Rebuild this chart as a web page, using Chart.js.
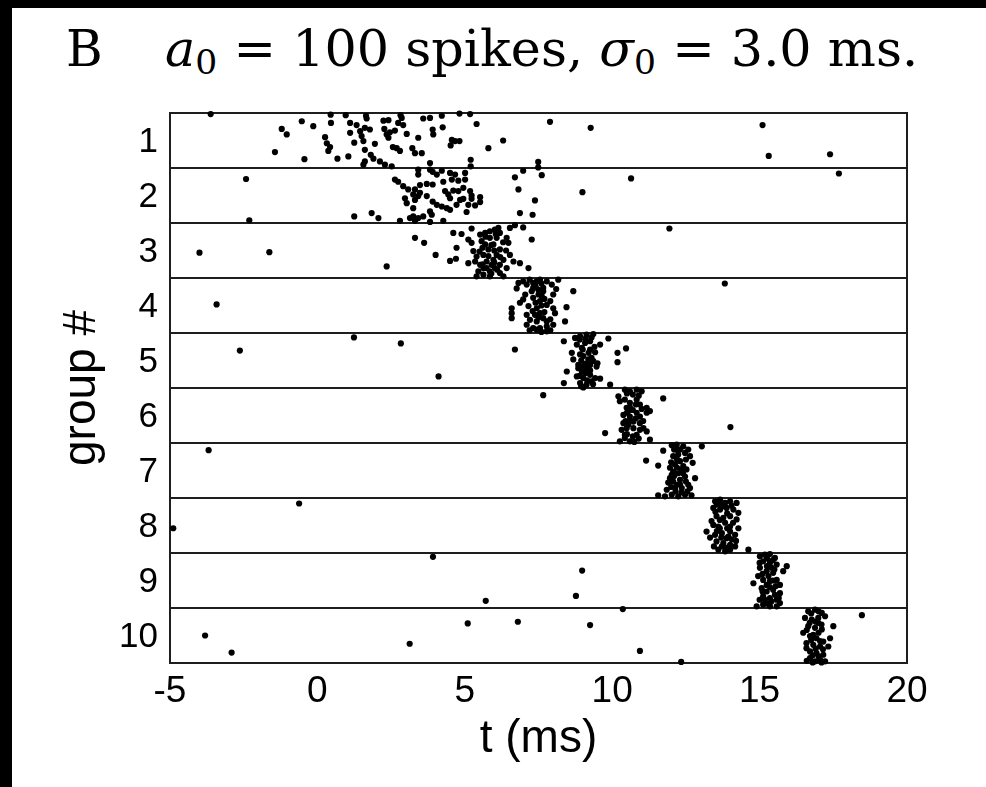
<!DOCTYPE html>
<html>
<head>
<meta charset="utf-8">
<script src="https://cdn.jsdelivr.net/npm/chart.js"></script>
<style>
  html, body { margin: 0; padding: 0; background: #000; }
  #panel { position: absolute; left: 12px; top: 8px; width: 974px; height: 779px; background: #fff; }
  #chart { position: absolute; left: 0; top: 0; }
  .ttl { position: absolute; font-family: "DejaVu Serif", "Liberation Serif", serif; color: #000; white-space: nowrap; line-height: 1; transform-origin: 0 0; }
  .ttl sub { font-size: 0.68em; vertical-align: -0.24em; line-height: 0; }
</style>
</head>
<body>
<div id="panel"></div>
<div class="ttl" id="panelLetter" style="left:66px; top:24px; font-size:50px;">B</div>
<div class="ttl" id="panelTitle" style="left:165px; top:24px; font-size:50px;"><i>a</i><sub>0</sub> = 100 spikes, <i>σ</i><sub>0</sub> = 3.0 ms.</div>
<canvas id="chart" width="986" height="787"></canvas>
<script>
// spike times per group: [t (ms), position inside the group's row, 0 = top .. 1 = bottom]
const spikesG1 = [[0.45,0.03],[0.96,0.04],[1.65,0.05],[1.67,0.10],[2.82,0.04],[2.86,0.09],[3.59,0.10],[3.82,0.09],[4.22,0.05],[4.82,0.01],[5.18,0.02],[-0.53,0.15],[-0.14,0.24],[-1.21,0.29],[-1.04,0.39],[0.46,0.18],[1.11,0.18],[1.33,0.22],[1.61,0.27],[1.78,0.30],[2.24,0.14],[2.41,0.13],[2.74,0.18],[2.91,0.22],[2.27,0.29],[2.46,0.35],[2.63,0.32],[3.03,0.38],[3.42,0.45],[3.91,0.30],[3.93,0.39],[4.25,0.26],[5.40,0.20],[7.89,0.16],[0.26,0.44],[0.32,0.55],[0.43,0.62],[0.37,0.69],[1.11,0.36],[1.45,0.33],[1.50,0.42],[1.56,0.51],[1.95,0.56],[2.35,0.39],[2.41,0.45],[2.56,0.62],[2.69,0.64],[2.80,0.69],[3.22,0.64],[3.31,0.73],[3.54,0.73],[4.56,0.49],[4.67,0.51],[4.82,0.51],[4.52,0.59],[6.30,0.50],[5.80,0.64],[-1.44,0.71],[-0.44,0.84],[0.68,0.83],[1.05,0.79],[1.61,0.67],[1.81,0.76],[1.90,0.83],[1.61,0.88],[1.56,0.94],[2.12,0.88],[2.29,0.94],[2.52,0.97],[3.82,0.91],[5.20,0.85],[5.20,0.97],[7.49,0.89],[7.49,0.99],[1.25,0.54],[-3.62,0.02],[9.27,0.27],[15.10,0.22],[15.31,0.78],[17.39,0.75]];
const spikesG2 = [[3.42,0.03],[3.42,0.12],[3.82,0.03],[3.91,0.07],[4.22,0.05],[4.05,0.12],[4.50,0.09],[4.67,0.12],[5.01,0.09],[4.56,0.21],[4.78,0.23],[5.01,0.21],[4.27,0.25],[3.91,0.30],[3.71,0.29],[3.48,0.31],[3.31,0.39],[2.63,0.21],[2.74,0.25],[2.91,0.33],[3.08,0.39],[3.25,0.48],[3.42,0.51],[3.48,0.45],[3.71,0.51],[3.91,0.61],[4.05,0.67],[4.22,0.70],[4.39,0.73],[4.50,0.76],[3.31,0.58],[3.25,0.73],[2.97,0.55],[3.03,0.64],[4.33,0.42],[4.44,0.48],[4.50,0.55],[4.61,0.41],[4.78,0.42],[4.95,0.36],[5.18,0.42],[5.23,0.50],[5.23,0.56],[5.52,0.53],[5.52,0.62],[5.35,0.68],[5.12,0.67],[4.95,0.56],[4.84,0.58],[4.72,0.67],[5.06,0.80],[3.82,0.79],[3.88,0.85],[3.59,0.88],[3.42,0.91],[3.25,0.88],[3.14,0.91],[3.31,0.96],[1.84,0.82],[2.07,0.91],[1.25,0.88],[2.80,0.96],[3.82,0.98],[6.82,0.39],[6.70,0.17],[6.98,0.05],[7.61,0.13],[7.38,0.59],[6.87,0.82],[7.30,0.85],[4.27,0.96],[-2.42,0.20],[-2.31,0.95],[10.64,0.19],[8.99,0.44],[17.69,0.10]];
const spikesG3 = [[3.31,0.27],[3.62,0.36],[4.01,0.58],[4.61,0.18],[4.89,0.20],[5.23,0.10],[5.12,0.30],[5.23,0.36],[4.72,0.45],[4.50,0.69],[4.70,0.65],[5.12,0.73],[5.52,0.21],[5.69,0.18],[5.85,0.15],[6.02,0.12],[6.14,0.09],[6.19,0.18],[6.53,0.09],[6.70,0.04],[6.98,0.08],[7.27,0.30],[6.42,0.27],[6.48,0.36],[5.97,0.39],[5.80,0.48],[5.63,0.58],[5.40,0.61],[5.35,0.70],[5.52,0.76],[5.46,0.88],[5.40,0.97],[5.74,0.82],[5.85,0.88],[6.02,0.82],[6.19,0.76],[6.31,0.67],[6.53,0.58],[6.65,0.70],[6.87,0.73],[7.16,0.82],[6.42,0.82],[6.19,0.91],[6.31,0.97],[5.85,0.97],[5.63,0.94],[6.08,0.58],[6.19,0.48],[5.97,0.67],[5.69,0.39],[5.57,0.33],[5.29,0.51],[5.85,0.27],[5.74,0.70],[6.08,0.27],[5.91,0.76],[5.63,0.82],[5.60,0.45],[5.80,0.60],[6.00,0.50],[6.20,0.62],[5.90,0.40],[6.30,0.35],[5.70,0.25],[6.00,0.72],[5.60,0.75],[6.10,0.85],[5.90,0.92],[6.40,0.50],[6.05,0.20],[5.50,0.52],[-4.00,0.54],[-1.63,0.53],[2.35,0.79],[11.94,0.10]];
const spikesG4 = [[6.82,0.09],[6.76,0.19],[6.98,0.06],[7.10,0.12],[7.32,0.09],[7.44,0.06],[7.55,0.03],[7.78,0.06],[7.95,0.12],[8.17,0.03],[8.00,0.30],[8.68,0.24],[7.49,0.21],[7.27,0.24],[7.66,0.24],[7.32,0.36],[7.55,0.42],[7.78,0.49],[8.00,0.55],[6.98,0.39],[6.87,0.45],[6.59,0.55],[6.59,0.64],[6.59,0.73],[7.10,0.67],[7.44,0.55],[7.55,0.64],[7.66,0.73],[7.78,0.79],[8.06,0.64],[8.45,0.53],[8.40,0.79],[7.10,0.85],[7.32,0.91],[7.55,0.91],[7.78,0.88],[8.00,0.85],[7.44,0.79],[7.16,0.51],[7.61,0.33],[7.38,0.67],[7.21,0.76],[7.32,0.18],[7.66,0.18],[7.44,0.94],[7.78,0.97],[7.20,0.03],[7.40,0.15],[7.60,0.10],[7.50,0.30],[7.70,0.38],[7.40,0.45],[7.60,0.50],[7.90,0.42],[7.30,0.60],[7.50,0.72],[7.70,0.62],[7.90,0.75],[7.20,0.95],[7.60,0.98],[7.90,0.95],[7.05,0.30],[8.10,0.20],[-3.42,0.48],[13.82,0.10]];
const spikesG5 = [[8.36,0.15],[8.74,0.09],[8.91,0.06],[9.13,0.03],[9.36,0.02],[9.59,0.21],[9.87,0.10],[8.80,0.21],[8.97,0.27],[9.25,0.30],[9.42,0.35],[8.68,0.48],[8.85,0.58],[9.02,0.42],[9.19,0.48],[9.36,0.51],[9.47,0.61],[9.13,0.64],[8.97,0.70],[8.46,0.70],[8.80,0.79],[9.02,0.82],[9.25,0.76],[9.42,0.82],[9.59,0.83],[8.91,0.91],[9.13,0.94],[9.02,0.99],[8.36,0.91],[9.93,0.94],[10.18,0.36],[10.18,0.53],[10.47,0.28],[8.63,0.36],[9.25,0.15],[9.08,0.18],[8.91,0.39],[9.25,0.58],[9.08,0.73],[8.85,0.64],[9.30,0.88],[8.90,0.12],[9.10,0.10],[9.30,0.08],[9.00,0.30],[9.20,0.36],[9.40,0.25],[8.95,0.50],[9.10,0.56],[9.30,0.45],[9.00,0.60],[9.25,0.68],[8.90,0.78],[9.15,0.86],[9.35,0.93],[8.95,0.97],[9.50,0.55],[-2.63,0.32],[1.24,0.08],[2.83,0.19],[4.11,0.79],[6.70,0.30]];
const spikesG6 = [[7.66,0.13],[10.21,0.15],[10.43,0.03],[10.60,0.06],[10.83,0.03],[11.00,0.06],[10.43,0.21],[10.60,0.27],[10.83,0.21],[10.94,0.30],[11.17,0.36],[10.49,0.36],[10.38,0.49],[10.60,0.52],[10.83,0.45],[10.94,0.52],[11.17,0.45],[11.28,0.42],[10.38,0.64],[10.55,0.67],[10.32,0.76],[10.49,0.73],[10.72,0.73],[10.94,0.76],[11.06,0.73],[11.17,0.79],[11.28,0.94],[10.43,0.91],[10.60,0.97],[10.83,0.85],[9.76,0.82],[11.73,0.19],[10.26,0.97],[10.72,0.61],[10.94,0.64],[10.26,0.24],[10.55,0.42],[10.43,0.85],[10.50,0.10],[10.70,0.12],[10.90,0.14],[10.60,0.35],[10.80,0.30],[10.50,0.45],[10.70,0.40],[11.00,0.38],[10.60,0.58],[10.80,0.55],[10.50,0.84],[10.70,0.88],[10.90,0.92],[10.45,0.60],[11.05,0.60],[10.75,0.98],[14.01,0.71]];
const spikesG7 = [[11.73,0.14],[11.15,0.32],[11.56,0.41],[12.02,0.04],[12.19,0.03],[12.41,0.06],[12.58,0.12],[13.04,0.06],[12.07,0.24],[12.24,0.21],[12.47,0.18],[12.64,0.24],[12.30,0.33],[12.13,0.39],[11.96,0.45],[12.41,0.42],[12.73,0.36],[12.52,0.48],[12.02,0.58],[12.24,0.55],[12.47,0.61],[12.07,0.70],[12.30,0.67],[12.81,0.64],[12.58,0.76],[11.85,0.85],[12.13,0.82],[12.36,0.82],[12.64,0.82],[11.56,0.95],[11.79,0.97],[12.02,0.94],[12.24,0.97],[12.47,0.94],[12.69,0.95],[11.96,0.64],[12.19,0.76],[12.19,0.12],[12.07,0.52],[12.36,0.48],[12.10,0.12],[12.30,0.12],[12.50,0.30],[12.20,0.30],[12.00,0.35],[12.20,0.45],[12.40,0.55],[12.10,0.60],[12.30,0.75],[12.50,0.70],[12.00,0.80],[12.35,0.90],[12.15,0.88],[11.90,0.72],[12.55,0.88],[-3.69,0.13]];
const spikesG8 = [[13.49,0.06],[13.66,0.03],[13.83,0.09],[14.00,0.06],[14.22,0.09],[13.43,0.18],[13.66,0.21],[13.88,0.18],[14.11,0.21],[14.28,0.27],[13.54,0.33],[13.77,0.36],[14.00,0.33],[14.22,0.39],[13.43,0.49],[13.60,0.52],[13.83,0.45],[14.00,0.52],[14.28,0.55],[13.20,0.61],[13.32,0.72],[13.49,0.67],[13.72,0.64],[13.94,0.70],[14.17,0.67],[13.54,0.79],[13.77,0.82],[14.00,0.85],[14.17,0.88],[13.60,0.94],[13.83,0.97],[14.00,0.94],[14.62,0.94],[13.37,0.42],[14.00,0.61],[13.66,0.12],[13.88,0.73],[13.72,0.88],[13.55,0.12],[13.80,0.15],[14.05,0.14],[13.50,0.25],[13.90,0.28],[13.65,0.40],[13.90,0.55],[13.55,0.60],[14.10,0.45],[13.70,0.72],[14.05,0.75],[13.45,0.88],[13.90,0.90],[14.20,0.78],[13.65,0.55],[-0.62,0.10],[-4.89,0.55]];
const spikesG9 = [[15.01,0.06],[15.18,0.03],[15.35,0.02],[15.52,0.09],[15.12,0.15],[15.35,0.18],[15.58,0.21],[15.92,0.24],[15.80,0.33],[15.01,0.27],[15.24,0.33],[15.46,0.36],[14.95,0.42],[14.79,0.55],[15.12,0.49],[15.35,0.51],[15.58,0.49],[15.69,0.58],[15.07,0.64],[15.24,0.70],[15.46,0.67],[15.69,0.73],[15.12,0.79],[15.35,0.82],[15.58,0.85],[15.69,0.91],[14.90,0.97],[15.12,0.94],[15.35,0.97],[15.58,0.97],[15.24,0.58],[15.41,0.27],[15.52,0.76],[15.18,0.85],[15.25,0.10],[15.45,0.13],[15.00,0.18],[15.25,0.24],[15.50,0.30],[15.10,0.38],[15.30,0.42],[15.55,0.60],[15.35,0.62],[15.10,0.70],[15.40,0.88],[15.25,0.92],[15.65,0.82],[15.00,0.85],[15.45,0.50],[3.92,0.07],[8.98,0.32],[5.71,0.87],[8.77,0.78]];
const spikesG10 = [[16.65,0.06],[16.88,0.03],[17.11,0.09],[16.54,0.18],[16.77,0.21],[16.99,0.18],[17.22,0.15],[17.50,0.33],[16.65,0.33],[16.88,0.36],[17.11,0.39],[16.48,0.45],[16.71,0.51],[16.93,0.55],[17.39,0.55],[17.33,0.70],[16.59,0.64],[16.82,0.67],[17.05,0.70],[16.71,0.79],[16.93,0.82],[17.16,0.85],[16.71,0.91],[16.88,0.97],[17.05,0.94],[17.22,0.97],[16.99,0.27],[16.82,0.49],[17.16,0.61],[16.59,0.73],[16.75,0.10],[17.00,0.06],[16.70,0.27],[16.90,0.25],[17.10,0.30],[16.60,0.40],[17.00,0.45],[16.75,0.58],[17.05,0.60],[16.90,0.74],[17.15,0.75],[16.80,0.86],[17.00,0.88],[16.60,0.96],[16.80,0.99],[17.10,0.99],[-3.81,0.50],[-2.91,0.81],[3.13,0.65],[5.10,0.28],[6.80,0.25],[9.25,0.31],[10.36,0.02],[10.94,0.78],[12.34,0.98],[18.47,0.13]];

const groups = [spikesG1, spikesG2, spikesG3, spikesG4, spikesG5, spikesG6, spikesG7, spikesG8, spikesG9, spikesG10];
const groupLabels = ['1', '2', '3', '4', '5', '6', '7', '8', '9', '10'];
const xTicks = [-5, 0, 5, 10, 15, 20];

const points = [];
groups.forEach((g, i) => {
  for (const [t, p] of g) points.push({ x: t, y: i + p });
});

// stretch the serif heading so it spans the same width as in the figure
const heading = document.getElementById('panelTitle');
const wantW = 918 - 165;
heading.style.transform = `scaleX(${(wantW / heading.getBoundingClientRect().width).toFixed(3)})`;

const lineColor = '#1e1e1e';

// box round the plot area
const frame = {
  id: 'frame',
  beforeDatasetsDraw(chart) {
    const { ctx, chartArea: a } = chart;
    ctx.save();
    ctx.strokeStyle = lineColor;
    ctx.lineWidth = 2;
    ctx.strokeRect(a.left, a.top, a.right - a.left, a.bottom - a.top);
    ctx.restore();
  }
};

const sans = '"Liberation Sans", Arial, sans-serif';
const yTickFont = { family: sans, size: 35, lineHeight: 1.2 };
const xTickFont = { family: sans, size: 37, lineHeight: 1.2 };
const titleFont = { family: sans, size: 46, lineHeight: 1.2 };

new Chart(document.getElementById('chart'), {
  type: 'scatter',
  data: {
    datasets: [{
      data: points,
      backgroundColor: '#000',
      borderWidth: 0,
      pointRadius: 3.1,
      pointHoverRadius: 3.1,
      clip: false
    }]
  },
  options: {
    responsive: false,
    animation: false,
    devicePixelRatio: 1,
    layout: { padding: { top: 113, right: 79, bottom: 0, left: 0 } },
    plugins: { legend: { display: false }, tooltip: { enabled: false } },
    scales: {
      x: {
        type: 'linear',
        min: -5,
        max: 20,
        afterFit: (s) => { s.height = 124; },
        afterBuildTicks: (s) => { s.ticks = xTicks.map((v) => ({ value: v })); },
        grid: { display: false, drawTicks: false },
        border: { display: true, color: lineColor, width: 2 },
        ticks: { color: '#000', font: xTickFont, padding: 7, maxRotation: 0, autoSkip: false },
        title: { display: true, text: 't (ms)', color: '#000', font: titleFont, padding: { top: 0, bottom: 20 } }
      },
      y: {
        type: 'linear',
        min: 0,
        max: groups.length,
        reverse: true,
        afterFit: (s) => { s.width = 170; },
        grid: { display: true, color: lineColor, lineWidth: 2, drawTicks: false },
        border: { display: true, color: lineColor, width: 2 },
        ticks: {
          stepSize: 1,
          autoSkip: false,
          color: '#000',
          font: yTickFont,
          padding: 12,
          labelOffset: 29,
          callback: (v) => groupLabels[v] ?? ''
        },
        title: { display: true, text: 'group #', color: '#000', font: titleFont, padding: { top: 55, bottom: 0 } }
      }
    }
  },
  plugins: [frame]
});
</script>
</body>
</html>
